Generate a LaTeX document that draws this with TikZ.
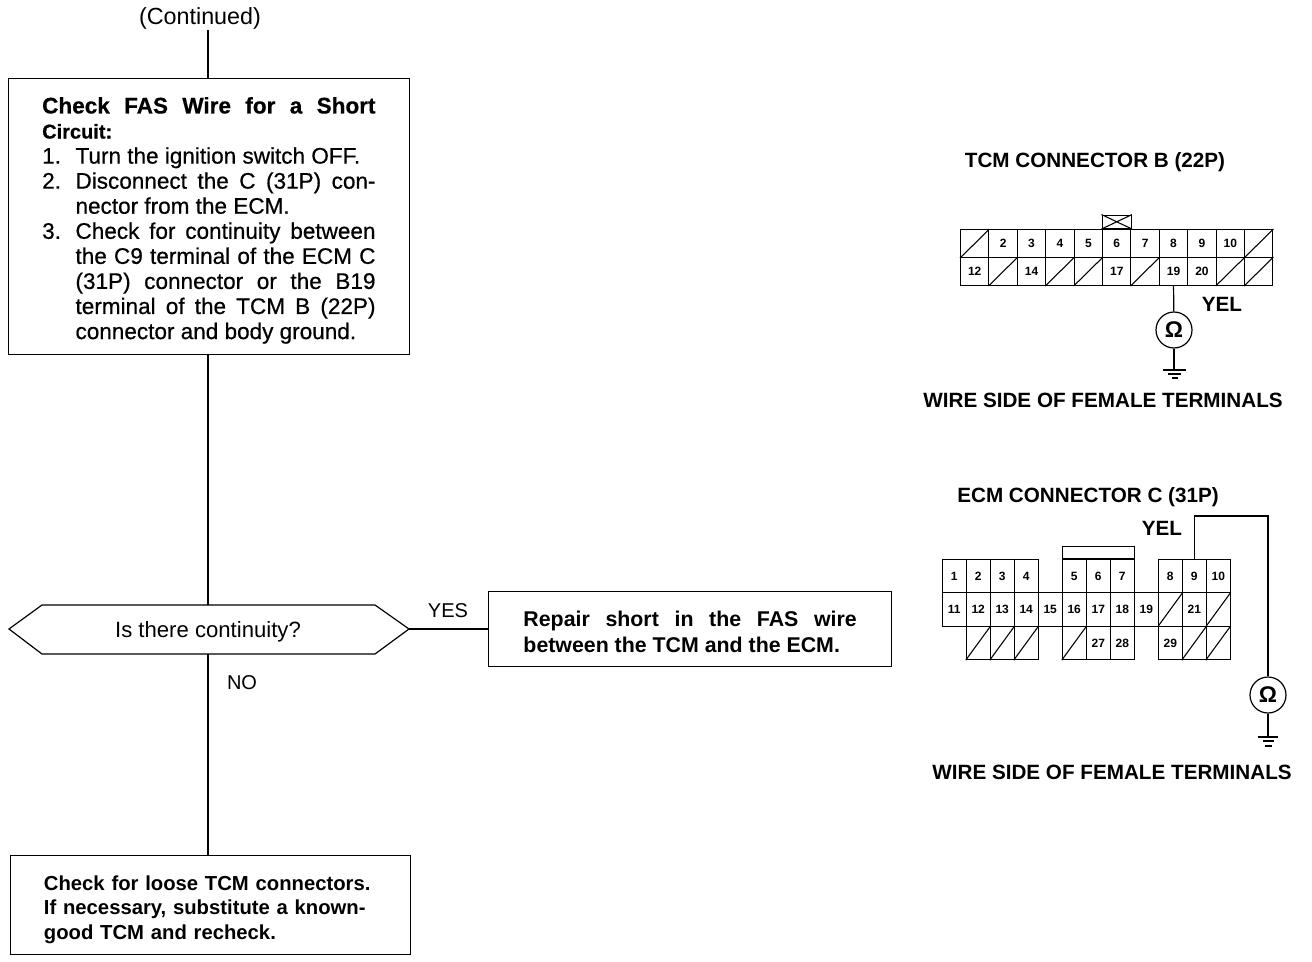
\documentclass[tikz,border=0pt]{standalone}
\usepackage{fontspec}
\setmainfont{Liberation Sans}
\newfontfamily\medfont{Liberation Sans}[FakeBold=0.6]
\usetikzlibrary{positioning,calc}
\newcommand{\fillline}[1]{\makebox[250pt][s]{#1}}
\newcommand{\listline}[1]{\hspace*{25pt}\makebox[225pt][s]{#1}}
\newcommand{\numline}[2]{\makebox[25pt][l]{#1}\makebox[225pt][s]{#2}}
\tikzset{
  stepbox/.style={rectangle,draw=black,line width=0.9pt,inner ysep=0pt,align=left,anchor=north west},
  answer/.style={font=\fontsize{15}{15}\selectfont},
  title/.style={font=\fontsize{15.5}{15}\selectfont\bfseries},
  cell/.style={rectangle,draw=black,line width=0.8pt,inner sep=0pt,font=\fontsize{9}{9}\selectfont\bfseries,
    minimum width=21.3pt,minimum height=21pt,anchor=north west},
  ecmcell/.style={cell,minimum width=18pt,minimum height=25pt},
  meter/.style={circle,draw=black,line width=0.9pt,inner sep=0pt,minimum size=27pt,font=\fontsize{17}{17}\selectfont\bfseries},
  wire/.style={line width=0.9pt},
  gnd/.style={line width=0.8pt}
}
\begin{document}
\begin{tikzpicture}[x=0.75pt,y=-0.75pt]
  \useasboundingbox (0,0) rectangle (1312,962);
  % flow chart
  \node[answer,font=\fontsize{17.5}{17}\selectfont,inner sep=1pt] (cont) at (200,18) {(Continued)};
  \node[stepbox,inner xsep=25.2pt,minimum height=207pt,font=\fontsize{16.9}{18.8}\selectfont\medfont] (chk) at (8,78) {%
    \rule{0pt}{18pt}\textbf{\fillline{Check FAS Wire for a Short}}\\
    {\fontsize{15}{18.8}\selectfont\textbf{Circuit:}}\\
    \numline{1.}{Turn the ignition switch OFF.\hfill}\\
    \numline{2.}{Disconnect the C (31P) con-}\\
    \listline{nector from the ECM.\hfill}\\
    \numline{3.}{Check for continuity between}\\
    \listline{the C9 terminal of the ECM C}\\
    \listline{(31P) connector or the B19}\\
    \listline{terminal of the TCM B (22P)}\\
    \listline{connector and body ground.\hfill}};
  \node[answer,font=\fontsize{16.6}{16}\selectfont] (q) at (208,632) {Is there continuity?};
  \coordinate (hl) at (9,629);
  \coordinate (hr) at (409,629);
  \coordinate (ht) at (208,605);
  \coordinate (hb) at (208,654);
  \draw[wire] (hl) -- (42,605) -- (375,605) -- (hr) -- (375,654) -- (42,654) -- cycle;
  \node[stepbox,inner xsep=25.5pt,minimum width=302.3pt,minimum height=56pt,font=\fontsize{16}{18.8}\selectfont\bfseries] (fix) at (488,591)
    {\rule{0pt}{16pt}\fillline{Repair short in the FAS wire}\\between the TCM and the ECM.};
  \node[stepbox,inner xsep=25pt,text width=250pt,minimum height=74pt,font=\fontsize{15.2}{18.5}\selectfont\bfseries] (sub) at (10,855)
    {\rule{0pt}{18pt}Check for loose TCM connectors.\\If necessary, substitute a known-\\good TCM and recheck.};
  \node[answer] (yes) at (448,611) {YES};
  \node[answer] (no) at (242,683) {NO};
  \draw[wire] (cont.south -| ht) -- (chk.north -| ht);
  \draw[wire] (chk.south -| ht) -- (ht);
  \draw[wire] (hr) -- (hr -| fix.west);
  \draw[wire] (hb) -- (sub.north -| hb);
  % TCM connector
  \node[title] (tcmt) at (1095,162) {TCM CONNECTOR B (22P)};
  \foreach \col/\row/\lab in {0/0/,1/0/2,2/0/3,3/0/4,4/0/5,5/0/6,6/0/7,7/0/8,8/0/9,9/0/10,10/0/,
      0/1/12,1/1/,2/1/14,3/1/,4/1/,5/1/17,6/1/,7/1/19,8/1/20,9/1/,10/1/}
    \node[cell] (b\col-\row) at ({960+28.4*\col},{229+28*\row}) {\lab};
  \foreach \col/\row in {0/0,10/0,1/1,3/1,4/1,6/1,9/1,10/1}
    \draw[line width=0.8pt] (b\col-\row.south west) -- (b\col-\row.north east);
  \node[cell,minimum width=22pt,minimum height=10pt,anchor=south] (key) at (b5-0.north) {};
  \draw[line width=0.8pt] (key.south west) -- (key.north east) (key.north west) -- (key.south east);
  \node[meter] (om1) at (1174,330) {Ω};
  \coordinate (g1) at (1174,370);
  \draw[wire] (b7-1.south) -- (om1);
  \draw[wire] (om1) -- (g1);
  \draw[gnd] (1163,370) -- (1186,370) (1168,374) -- (1181,374) (1172,378) -- (1178,378);
  \node[title] (yel1) at (1222,304) {YEL};
  \node[title] (wire1) at (1103,400) {WIRE SIDE OF FEMALE TERMINALS};
  % ECM connector
  \node[title] (ecmt) at (1088,497) {ECM CONNECTOR C (31P)};
  \foreach \col/\row/\lab in {0/0/1,1/0/2,2/0/3,3/0/4,5/0/5,6/0/6,7/0/7,9/0/8,10/0/9,11/0/10,
      0/1/11,1/1/12,2/1/13,3/1/14,4/1/15,5/1/16,6/1/17,7/1/18,8/1/19,9/1/,10/1/21,11/1/,
      1/2/,2/2/,3/2/,5/2/,6/2/27,7/2/28,9/2/29,10/2/,11/2/}
    \node[ecmcell] (c\col-\row) at ({941.7+24*\col},{559+33.4*\row}) {\lab};
  \foreach \col/\row in {9/1,11/1,1/2,2/2,3/2,5/2,10/2,11/2}
    \draw[line width=0.8pt] (c\col-\row.south west) -- (c\col-\row.north east);
  \node[cell,minimum width=54pt,minimum height=9pt,anchor=south west,line width=0.5pt] (tab) at (c5-0.north west) {};
  \node[meter] (om2) at (1268,695) {Ω};
  \coordinate (g2) at (1268,737);
  \coordinate (w2) at (1193,516);
  \draw[wire] (c10-0.north) -- (c10-0.north |- w2) -- (w2 -| om2) -- (om2);
  \draw[wire] (om2) -- (g2);
  \draw[gnd] (1258,737) -- (1278,737) (1263,741) -- (1274,741) (1265,746) -- (1272,746);
  \node[title] (yel2) at (1162,528) {YEL};
  \node[title] (wire2) at (1112,772) {WIRE SIDE OF FEMALE TERMINALS};
\end{tikzpicture}
\end{document}
